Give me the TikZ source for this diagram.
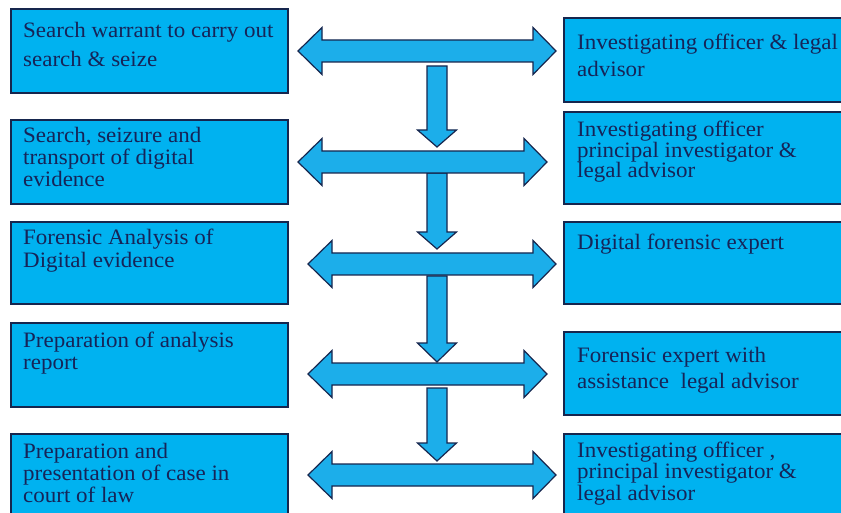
\documentclass[tikz,border=0pt]{standalone}
\usepackage{fontspec}
\setmainfont{Liberation Serif}[FakeStretch=1.045]
\definecolor{boxfill}{RGB}{0,178,240}
\definecolor{arrowfill}{RGB}{28,174,234}
\definecolor{bordercol}{RGB}{22,38,78}
\definecolor{textcol}{RGB}{22,36,88}
\tikzset{
  box/.style={draw=bordercol, line width=1.4pt, fill=boxfill, anchor=north west,
    inner sep=0pt, outer sep=0pt},
  txt/.style={anchor=base west, align=left, inner sep=0pt, text=textcol},
  blockarrow/.style={draw=bordercol, line width=1.2pt, fill=arrowfill, line join=miter},
}
% double block arrow: #1 = centre y, #2 = left tip x, #3 = right tip x
\newcommand\mydblarrow[3]{%
  \draw[blockarrow] (#2,#1) -- (#2+24,#1-23.5) -- (#2+24,#1-11) -- (#3-23,#1-11)
    -- (#3-23,#1-23.5) -- (#3,#1) -- (#3-23,#1+23.5) -- (#3-23,#1+11)
    -- (#2+24,#1+11) -- (#2+24,#1+23.5) -- cycle;}
% vertical block arrow: #1 = top y, #2 = head base y, #3 = tip y
\newcommand\myvarrow[3]{%
  \draw[blockarrow] (427,#1) -- (447,#1) -- (447,#2) -- (456.5,#2) -- (437,#3)
    -- (417.5,#2) -- (427,#2) -- cycle;}
\begin{document}
\begin{tikzpicture}[x=1pt,y=-1pt]
\clip (0,0) rectangle (841,513);
\fill[white] (0,0) rectangle (841,513);

% left boxes
\node[box, minimum width=277pt, minimum height=84pt] (L1) at (11,9) {};
\node[box, minimum width=277pt, minimum height=84pt] (L2) at (11,120) {};
\node[box, minimum width=277pt, minimum height=82pt] (L3) at (11,222) {};
\node[box, minimum width=277pt, minimum height=84pt] (L4) at (11,323) {};
\node[box, minimum width=277pt, minimum height=90pt] (L5) at (11,434) {};
% right boxes
\node[box, minimum width=290pt, minimum height=84pt] (R1) at (564,18) {};
\node[box, minimum width=290pt, minimum height=92pt] (R2) at (564,112) {};
\node[box, minimum width=290pt, minimum height=82pt] (R3) at (564,222) {};
\node[box, minimum width=290pt, minimum height=83pt] (R4) at (564,332) {};
\node[box, minimum width=290pt, minimum height=90pt] (R5) at (564,434) {};

% texts (anchored at the baseline of their last line)
\node[txt, font=\fontsize{22}{29}\selectfont] (L1t) at (23,67) {Search warrant to carry out\\search \& seize};
\node[txt, font=\fontsize{22}{22}\selectfont] (L2t) at (23,187) {Search, seizure and\\transport of digital\\evidence};
\node[txt, font=\fontsize{22}{23}\selectfont] (L3t) at (23,268) {Forensic Analysis of\\Digital evidence};
\node[txt, font=\fontsize{22}{22}\selectfont] (L4t) at (23,369) {Preparation of analysis\\report};
\node[txt, font=\fontsize{22}{22}\selectfont] (L5t) at (23,502) {Preparation and\\presentation of case in\\court of law};
\node[txt, font=\fontsize{22}{27.5}\selectfont] (R1t) at (577,77) {Investigating officer \& legal\\advisor};
\node[txt, font=\fontsize{22}{20.5}\selectfont] (R2t) at (577,178) {Investigating officer\\principal investigator \&\\legal advisor};
\node[txt, font=\fontsize{22}{22}\selectfont] (R3t) at (577,250) {Digital forensic expert};
\node[txt, font=\fontsize{22}{26}\selectfont] (R4t) at (577,388) {Forensic expert with\\assistance\ \ legal advisor};
\node[txt, font=\fontsize{22}{21.5}\selectfont] (R5t) at (577,500) {Investigating officer ,\\principal investigator \&\\legal advisor};

% vertical arrows
\myvarrow{66}{130}{147}
\myvarrow{173}{232}{249}
\myvarrow{276}{343}{362}
\myvarrow{388}{443}{461}

% double arrows
\mydblarrow{51}{298}{556}
\mydblarrow{162}{298}{547}
\mydblarrow{264}{308}{556}
\mydblarrow{374}{308}{547}
\mydblarrow{475}{308}{556}
\end{tikzpicture}
\end{document}
